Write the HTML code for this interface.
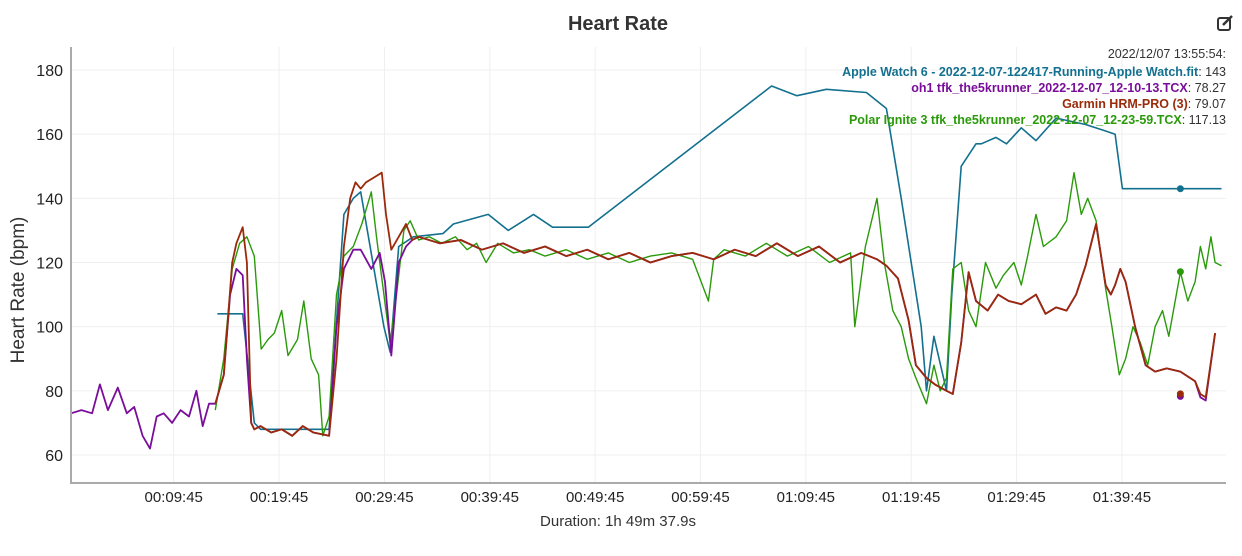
<!DOCTYPE html>
<html><head><meta charset="utf-8"><style>
body{margin:0;background:#fff;font-family:"Liberation Sans",sans-serif;}
svg text{font-family:"Liberation Sans",sans-serif;}
</style></head><body>
<svg id="chart" width="1242" height="551" xmlns="http://www.w3.org/2000/svg">
<text x="618" y="30" text-anchor="middle" font-size="20" font-weight="bold" fill="#333">Heart Rate</text>
<g transform="translate(1217,15)" fill="none" stroke="#333" stroke-width="2">
<rect x="1" y="3" width="12" height="12" rx="2"/><path d="M6 10 L15 1" stroke-width="2.5"/></g>
<g id="grid"></g>
<g id="series"></g>
<g id="axes"></g>
<text transform="translate(24,290) rotate(-90)" text-anchor="middle" font-size="19" fill="#333">Heart Rate (bpm)</text>
<text x="618" y="526" text-anchor="middle" font-size="15" fill="#333">Duration: 1h 49m 37.9s</text>
<g font-size="12.5" text-anchor="end">
<text x="1226" y="58" fill="#333">2022/12/07 13:55:54:</text>
<text x="1226" y="76" fill="#333"><tspan fill="#13708f" font-weight="bold">Apple Watch 6 - 2022-12-07-122417-Running-Apple Watch.fit</tspan>: 143</text>
<text x="1226" y="92" fill="#333"><tspan fill="#7a0e9a" font-weight="bold">oh1 tfk_the5krunner_2022-12-07_12-10-13.TCX</tspan>: 78.27</text>
<text x="1226" y="108" fill="#333"><tspan fill="#9a2a0a" font-weight="bold">Garmin HRM-PRO (3)</tspan>: 79.07</text>
<text x="1226" y="124" fill="#333"><tspan fill="#2a9a0a" font-weight="bold">Polar Ignite 3 tfk_the5krunner_2022-12-07_12-23-59.TCX</tspan>: 117.13</text>
</g>
</svg>
<script>
const yTicks=[60,80,100,120,140,160,180];
const xTickMinutes=[9.75,19.75,29.75,39.75,49.75,59.75,69.75,79.75,89.75,99.75];
const xTickLabels=["00:09:45","00:19:45","00:29:45","00:39:45","00:49:45","00:59:45","01:09:45","01:19:45","01:29:45","01:39:45"];
const midT=[33,35,37,39,41,43,45,47,49,51,53,55,57,59,61,63,65,67,69,71,73,75,76.5];
const midV=[128,126,127,124,126,123,125,122,124,121,123,120,122,123,121,124,122,126,122,125,120,123,121];
const oh1T=[0,1,2,2.74,3.5,4.44,5.3,6,6.8,7.5,8.13,8.8,9.6,10.4,11.2,11.9,12.5,13.1,13.7,14.5,15.1,15.7,16.3,16.7,17.1,17.4,18,19,20,21,22,23,24.5,25.2,25.9,26.8,27.5,28.5,29.3,29.8,30.4,31.1,31.8,32.4].concat(midT,[77.4,78.5,79.5,80.2,81.2,82,83.1,83.7,84.5,85.2,85.9,87,88,89,90.2,91.6,92.5,93.5,94.5,95.4,96.3,97.3,98.2,98.7,99.1,99.6,100.1,101,102,102.9,104,105.3,106.7,107.2,107.7,108.6]);
const oh1V=[73,74,73,82,74,81,73,75,66,62,72,73,70,74,72,80,69,76,76,85,110,118,116,90,70,68,69,67,68,66,69,67,66,100,118,124,124,118,123,114,91,120,125,127].concat(midV,[119,115,102,88,84,82,80,79,95,117,108,105,110,108,107,110,104,106,105,110,119,132,113,110,113,118,114,100,88,86,87,86,83,78,77,98,112,111,109]);
const garT=[13.7,14.5,15.3,15.7,16.3,16.7,17.1,17.4,18,19,20,21,22,23,24.5,25.2,25.9,26.5,27,27.5,28,28.5,29.5,29.9,30.4,31.1,31.8,32.4].concat(midT,[77.4,78.5,79.5,80.2,81.2,82,83.1,83.7,84.5,85.2,85.9,87,88,89,90.2,91.6,92.5,93.5,94.5,95.4,96.3,97.3,98.2,98.7,99.1,99.6,100.1,101,102,102.9,104,105.3,106.7,107.2,107.7,108.6]);
const garV=[76,85,120,126,131,120,70,68,69,67,68,66,69,67,66,90,125,140,145,143,145,146,148,135,124,128,132,127].concat(midV,[119,115,102,88,84,82,80,79,95,117,108,105,110,108,107,110,104,106,105,110,119,132,113,110,113,118,114,100,88,86,87,86,83,79,78,98,112,111,108]);
const appT=[13.9,16.3,17.4,18,24.5,25.9,26.8,27.5,29.7,30.3,31.1,32.5,35.3,36.3,39.6,41.5,43.9,45.7,49.1,66.5,68.9,71.7,75.5,77.4,78.8,80.7,81.2,81.9,83.1,83.6,84.5,85.9,86.4,87.8,88.8,90.2,91.6,93.5,96.3,98.2,99.1,99.8,109.2];
const appV=[104,104,70,68,68,135,140,142,100,92,125,128,129,132,135,130,135,131,131,175,172,174,173,168,140,100,80,97,80,110,150,157,157,159,157,162,158,165,163,161,160,143,143];
const polT=[13.7,14.5,15.3,16,16.7,17.4,18.05,18.7,19.3,20,20.6,21.5,22.1,22.8,23.5,23.9,24.5,25.2,25.9,26.8,27.6,28.5,29,29.7,30.3,30.9,31.6,32.2,33,34,35.2,36.5,37.6,38.5,39.4,40.5,42,43.5,45,47,49,51,53,55,57,59,60.5,61,62,64,66,68,70,72,74,74.4,75.4,76.5,77.2,78,78.8,79.5,80.2,81.2,81.9,82.5,83.1,83.7,84.5,85.2,85.9,86.8,87.8,88.5,89.5,90.2,90.8,91.6,92.3,93.5,94.5,95.2,95.9,96.5,97.3,98.2,98.8,99.5,100.1,100.8,101.5,102.2,102.9,103.6,104.2,105.3,106,106.7,107.2,107.7,108.2,108.6,109.2];
const polV=[74,90,118,126,128,122,93,96,98,105,91,96,108,90,85,66,72,110,122,125,132,142,128,110,95,110,130,133,127,128,126,128,124,126,120,126,123,124,122,124,121,123,120,122,123,121,108,121,124,122,126,122,125,120,123,100,125,140,120,105,100,90,84,76,88,80,84,118,120,105,100,120,112,116,120,113,122,135,125,128,133,148,135,140,133,112,100,85,90,100,95,88,100,105,97,117,108,114,125,118,128,120,119];
const X0=71,X1=1226,XMIN=0,XMAX=109.63,Y0=483,YTOP=47;
const xs=m=>X0+(m-XMIN)/(XMAX-XMIN)*(X1-X0);
const ys=v=>455-(v-60)*(385/120);
const NS="http://www.w3.org/2000/svg";
const grid=document.getElementById('grid'),axes=document.getElementById('axes'),ser=document.getElementById('series');
function mk(tag,attrs,parent){const e=document.createElementNS(NS,tag);for(const k in attrs)e.setAttribute(k,attrs[k]);parent.appendChild(e);return e;}
yTicks.forEach(v=>{
 const l=mk('line',{x1:X0,x2:X1,y1:ys(v),y2:ys(v),stroke:'#efefef'},grid);
 
 
 const t=mk('text',{x:X0-8,y:ys(v)+6,'text-anchor':'end','font-size':'16',fill:'#222'},axes);
 
 
 t.textContent=v;
});
xTickMinutes.forEach((m,i)=>{
 const l=mk('line',{x1:xs(m),x2:xs(m),y1:YTOP,y2:Y0,stroke:'#efefef'},grid);
 
 
 const t=mk('text',{x:xs(m),y:502,'text-anchor':'middle','font-size':'15',fill:'#222'},axes);
 
 
 t.textContent=xTickLabels[i];
});
const ax=mk('path',{d:`M${X0} ${YTOP} V${Y0} H${X1}`,fill:'none',stroke:'#aaa','stroke-width':'2'},axes);


function line(T,V,color,w,name){
 const d=T.map((t,i)=>(i?'L':'M')+xs(t).toFixed(1)+' '+ys(V[i]).toFixed(1)).join(' ');
 const p=mk('path',{d:d,fill:'none',stroke:color,'stroke-width':w,'stroke-linejoin':'round'},ser);
 
 
}
line(appT,appV,'#13708f',1.6,'apple-watch-line');
line(polT,polV,'#2a9a0a',1.4,'polar-line');
line(oh1T,oh1V,'#7a0e9a',1.8,'oh1-line');
line(garT,garV,'#9a2a0a',1.8,'garmin-line');
const hoverT=105.3;
[[143,'#13708f','apple-hover-marker'],[117.13,'#2a9a0a','polar-hover-marker'],[78.27,'#7a0e9a','oh1-hover-marker'],[79.07,'#9a2a0a','garmin-hover-marker']].forEach(a=>{
 const c=mk('circle',{cx:xs(hoverT),cy:ys(a[0]),r:3.5,fill:a[1]},ser);
 
 
});
</script>
</body></html>
